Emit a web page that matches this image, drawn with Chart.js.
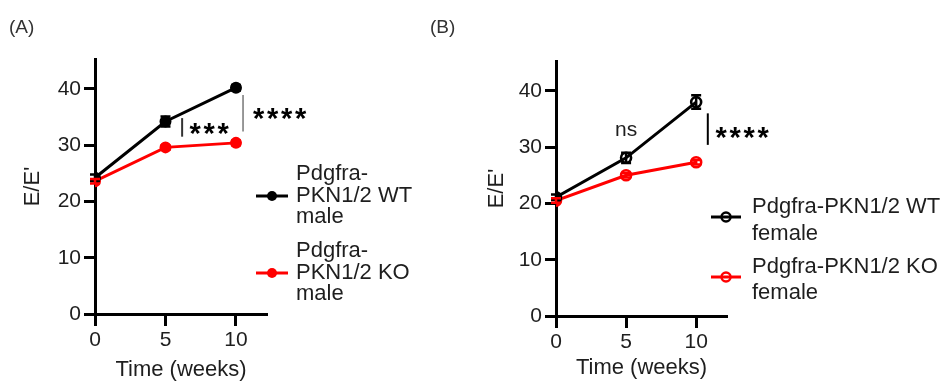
<!DOCTYPE html>
<html><head><meta charset="utf-8">
<script src="https://cdn.jsdelivr.net/npm/chart.js@4.4.1/dist/chart.umd.min.js"></script>
<style>
html,body{margin:0;padding:0;background:#fff;}
#wrap{position:relative;width:941px;height:383px;overflow:hidden;background:#fff;}
canvas{position:absolute;top:0;}
</style></head><body>
<div id="wrap">
<canvas id="cA" width="420" height="383" style="left:0px"></canvas>
<canvas id="cB" width="521" height="383" style="left:420px"></canvas>
</div>
<script>
// ---- data ----
const weeks = [0, 5, 10];
const xTicks = [0, 5, 10];
const yTicks = [0, 10, 20, 30, 40];
const maleWT = [24.2, 34.2, 40.2];
const maleWTsem = [0.6, 0.9, 0.5];
const maleKO = [23.6, 29.6, 30.4];
const maleKOsem = [0.4, 0.4, 0.4];
const femaleWT = [21.1, 28.1, 38.0];
const femaleWTsem = [0.5, 0.9, 1.2];
const femaleKO = [20.5, 25.0, 27.3];
const femaleKOsem = [0.4, 0.4, 0.4];
const labelsA = [["Pdgfra-", "PKN1/2 WT", "male"], ["Pdgfra-", "PKN1/2 KO", "male"]];
const labelsB = [["Pdgfra-PKN1/2 WT", "female"], ["Pdgfra-PKN1/2 KO", "female"]];
const panelTitles = ["(A)", "(B)"];
const xTitle = "Time (weeks)";
const yTitle = "E/E'";

const FONT = '"Liberation Sans", Arial, sans-serif';
const TXT = '#1e1e1e';

const deco = {
  id: 'deco',
  afterDatasetsDraw(chart, args, o) {
    const ctx = chart.ctx, xs = chart.scales.x, ys = chart.scales.y;
    ctx.save();
    // error bars
    o.series.forEach(s => {
      ctx.strokeStyle = s.color; ctx.lineWidth = 2.5; ctx.lineCap = 'butt';
      weeks.forEach((w, i) => {
        const px = xs.getPixelForValue(w);
        const y1 = ys.getPixelForValue(s.vals[i] - s.sem[i]);
        const y2 = ys.getPixelForValue(s.vals[i] + s.sem[i]);
        ctx.beginPath();
        ctx.moveTo(px, y1); ctx.lineTo(px, y2);
        ctx.moveTo(px - 5, y1); ctx.lineTo(px + 5, y1);
        ctx.moveTo(px - 5, y2); ctx.lineTo(px + 5, y2);
        ctx.stroke();
      });
    });
    // panel title
    ctx.fillStyle = '#333'; ctx.font = '19px ' + FONT;
    ctx.textAlign = 'left'; ctx.textBaseline = 'middle';
    ctx.fillText(o.title, o.titleX, o.titleY);
    // brackets
    o.brackets.forEach(b => {
      ctx.strokeStyle = b.color; ctx.lineWidth = b.width;
      const px = xs.getPixelForValue(b.x);
      ctx.beginPath();
      ctx.moveTo(px, ys.getPixelForValue(b.y1));
      ctx.lineTo(px, ys.getPixelForValue(b.y2));
      ctx.stroke();
    });
    // stars
    o.stars.forEach(s => {
      ctx.fillStyle = '#000'; ctx.font = 'bold 29px ' + FONT;
      ctx.textAlign = 'center'; ctx.textBaseline = 'alphabetic';
      const px = xs.getPixelForValue(s.x), py = ys.getPixelForValue(s.y);
      for (let k = 0; k < s.text.length; k++) {
        ctx.fillText(s.text[k], px + k * 14, py + 16.5);
      }
    });
    // plain texts
    o.texts.forEach(t => {
      ctx.fillStyle = TXT; ctx.font = '21px ' + FONT;
      ctx.textAlign = 'center'; ctx.textBaseline = 'middle';
      ctx.fillText(t.text, xs.getPixelForValue(t.x), ys.getPixelForValue(t.y));
    });
    // legend
    const L = o.legend;
    o.series.forEach((s, i) => {
      const it = L.items[i];
      ctx.strokeStyle = s.color; ctx.lineWidth = 3;
      ctx.beginPath(); ctx.moveTo(L.x1, it.lineY); ctx.lineTo(L.x2, it.lineY); ctx.stroke();
      const cx = (L.x1 + L.x2) / 2;
      ctx.beginPath(); ctx.arc(cx, it.lineY, L.r, 0, Math.PI * 2);
      if (o.open) { ctx.lineWidth = 2.5; ctx.stroke(); }
      else { ctx.fillStyle = s.color; ctx.fill(); }
      ctx.fillStyle = TXT; ctx.font = '22px ' + FONT;
      ctx.textAlign = 'left'; ctx.textBaseline = 'alphabetic';
      s.label.forEach((ln, j) => ctx.fillText(ln, L.textX, it.baselines[j]));
    });
    ctx.restore();
  }
};

function makeChart(id, cfg) {
  return new Chart(document.getElementById(id), {
    type: 'line',
    data: {
      datasets: cfg.series.map(s => ({
        label: s.label.join(' '),
        data: weeks.map((w, i) => ({ x: w, y: s.vals[i] })),
        borderColor: s.color,
        backgroundColor: cfg.open ? 'rgba(0,0,0,0)' : s.color,
        pointBackgroundColor: cfg.open ? 'rgba(0,0,0,0)' : s.color,
        pointBorderColor: s.color,
        pointRadius: 5,
        pointBorderWidth: cfg.open ? 2.6 : 2,
        borderWidth: 3,
        tension: 0,
        fill: false
      }))
    },
    options: {
      responsive: false, animation: false, devicePixelRatio: 1,
      events: [],
      layout: { padding: { top: cfg.top, right: cfg.right, left: 0, bottom: 0 } },
      plugins: { legend: { display: false }, tooltip: { enabled: false }, deco: cfg },
      scales: {
        x: {
          type: 'linear', min: 0, max: 12.2,
          afterBuildTicks: a => { a.ticks = xTicks.map(v => ({ value: v })); },
          afterFit: a => { a.height = cfg.xh; },
          grid: { display: true, drawOnChartArea: false, drawTicks: true, tickLength: 12, tickWidth: 3, tickColor: '#000' },
          border: { display: true, width: 3, color: '#000' },
          ticks: { font: { family: FONT, size: 21 }, color: TXT, padding: 2, maxRotation: 0 },
          title: { display: true, text: xTitle, font: { family: FONT, size: 22 }, color: TXT, padding: { top: 0, bottom: cfg.xtp } }
        },
        y: {
          type: 'linear', min: 0, max: 45.3,
          afterBuildTicks: a => { a.ticks = yTicks.map(v => ({ value: v })); },
          afterFit: a => { a.width = cfg.yw; },
          grid: { display: true, drawOnChartArea: false, drawTicks: true, tickLength: 11, tickWidth: 3, tickColor: '#000' },
          border: { display: true, width: 3, color: '#000' },
          ticks: { font: { family: FONT, size: 21 }, color: TXT, padding: 3 },
          title: { display: true, text: yTitle, font: { family: FONT, size: 22 }, color: TXT, padding: { top: cfg.ytp, bottom: 0 } }
        }
      }
    },
    plugins: [deco]
  });
}

makeChart('cA', {
  top: 59, right: 153, xh: 69, yw: 95, xtp: 0, ytp: 20, open: false,
  title: panelTitles[0], titleX: 9, titleY: 28,
  series: [
    { label: labelsA[0], vals: maleWT, sem: maleWTsem, color: '#000000' },
    { label: labelsA[1], vals: maleKO, sem: maleKOsem, color: '#ff0000' }
  ],
  brackets: [
    { x: 6.18, y1: 31.5, y2: 34.8, color: '#333', width: 2 },
    { x: 10.5, y1: 32.4, y2: 38.9, color: '#777', width: 1.5 }
  ],
  stars: [{ text: '***', x: 7.1, y: 33.3 }, { text: '****', x: 11.6, y: 36.0 }],
  texts: [],
  legend: { x1: 256, x2: 288, r: 5, textX: 296,
    items: [{ lineY: 196, baselines: [180, 201.5, 222.5] }, { lineY: 273, baselines: [257, 279, 300] }] }
});

makeChart('cB', {
  top: 61, right: 214, xh: 67, yw: 136, xtp: 2, ytp: 64, open: true,
  title: panelTitles[1], titleX: 10, titleY: 28,
  series: [
    { label: labelsB[0], vals: femaleWT, sem: femaleWTsem, color: '#000000' },
    { label: labelsB[1], vals: femaleKO, sem: femaleKOsem, color: '#ff0000' }
  ],
  brackets: [{ x: 10.83, y1: 30.4, y2: 36.0, color: '#000', width: 2 }],
  stars: [{ text: '****', x: 11.78, y: 32.9 }],
  texts: [{ text: 'ns', x: 5.0, y: 33.0 }],
  legend: { x1: 291, x2: 321, r: 4.5, textX: 332,
    items: [{ lineY: 217, baselines: [212.5, 240] }, { lineY: 277, baselines: [273, 298.5] }] }
});
</script>
</body></html>
